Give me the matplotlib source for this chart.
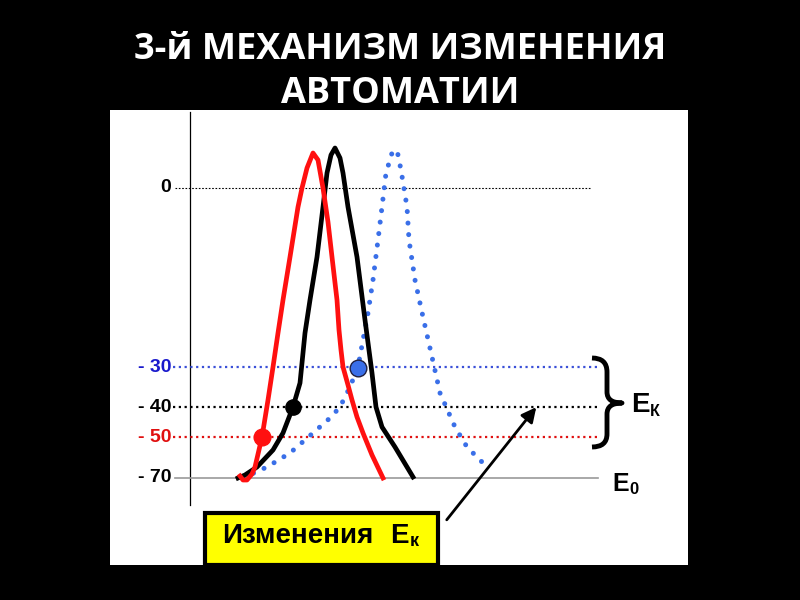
import matplotlib.pyplot as plt
from matplotlib.patches import Rectangle, PathPatch
from matplotlib.path import Path

plt.rcParams['font.family'] = ['Liberation Sans', 'DejaVu Sans']

# уровни потенциала (подписи) и их положение на схеме
level_labels = ['0', '- 30', '- 40', '- 50', '- 70']
level_y = [188, 367, 407, 437, 478]
level_colors = ['black', '#1a1acc', 'black', '#e01010', 'black']

# кривые ПД (схематично, координаты схемы)
red_x = [240, 243, 247, 252, 255, 262, 268, 273, 278, 283, 290, 298, 302, 307, 313,
         318, 323, 328, 332, 337, 339, 341, 343, 348, 352, 357, 363, 372, 383]
red_y = [476, 480, 480, 474, 467, 437, 400, 367, 333, 300, 257, 207, 188, 168, 153,
         160, 188, 222, 257, 300, 330, 350, 367, 385, 400, 417, 433, 455, 478]

black_x = [238, 245, 257, 273, 283, 293, 300, 305, 310, 317, 323, 327, 331, 335,
           340, 343, 348, 357, 365, 372, 376, 382, 395, 413]
black_y = [478, 475, 467, 450, 433, 407, 383, 333, 300, 257, 207, 173, 155, 148,
           158, 173, 207, 257, 320, 373, 407, 427, 447, 477]

blue_x = [243, 245, 256, 267, 290, 313, 330, 340, 350, 358, 363, 368, 373, 378,
          382, 386, 392, 397, 401, 407, 409, 415, 423, 432, 440, 455, 467, 485]
blue_y = [478, 477, 472, 467, 453, 433, 418, 407, 387, 367, 340, 313, 280, 240,
          207, 173, 153, 150, 170, 207, 240, 280, 317, 357, 393, 427, 447, 465]

# пороговые точки
thr_x = [262, 293, 358]
thr_y = [437, 407, 368]
thr_colors = ['#ff1010', 'black', '#3a6fe8']

fig = plt.figure(figsize=(8, 6), dpi=100, facecolor='black')
ax = fig.add_axes([110 / 800, 35 / 600, 578 / 800, 455 / 600])
ax.set_xlim(110, 688)
ax.set_ylim(565, 110)
ax.axis('off')
ax.add_patch(Rectangle((110, 110), 578, 455, fc='white', ec='none', zorder=0))

fig.text(0.5, 0.88, '3-й МЕХАНИЗМ ИЗМЕНЕНИЯ\nАВТОМАТИИ', color='white',
         ha='center', va='center', fontsize=26, fontweight='bold',
         family=['Open Sans', 'DejaVu Sans'], linespacing=1.32)

# ось
ax.plot([190, 190], [112, 505], color='black', lw=0.9)

# горизонтальные уровни
ax.plot([175, 590], [level_y[0]] * 2, color='black', lw=0.8, ls=(0, (1.5, 1.5)))
for y, c in zip(level_y[1:4], ['#3a50d8', 'black', '#e01010']):
    ax.plot([173, 598], [y, y], color=c, lw=1.6, ls=(0, (1, 1.6)))
ax.plot([175, 598], [level_y[4]] * 2, color='#999999', lw=1.2)

for lab, y, c in zip(level_labels, level_y, level_colors):
    ax.text(171, y, lab, color=c, ha='right', va='center', fontsize=14,
            fontweight='bold')

# кривые
ax.plot(black_x, black_y, color='black', lw=3.4, solid_joinstyle='round', zorder=3)
ax.plot(red_x, red_y, color='#ff1010', lw=3.4, solid_joinstyle='round', zorder=4)
ax.plot(blue_x, blue_y, color='#3a6fe8', lw=3.6, ls=(0, (0.01, 2.3)),
        dash_capstyle='round', zorder=2)

for x, y, c in zip(thr_x, thr_y, thr_colors):
    ax.plot(x, y, 'o', ms=12 if c != 'black' else 11, mfc=c,
            mec='#202040' if c == '#3a6fe8' else c, mew=1, zorder=5)

# фигурная скобка
brace = Path([(592, 358), (607, 358), (607, 372), (607, 392), (607, 403), (622, 403),
              (607, 403), (607, 414), (607, 434), (607, 447), (592, 447)],
             [Path.MOVETO, Path.CURVE3, Path.CURVE3, Path.LINETO, Path.CURVE3,
              Path.CURVE3, Path.CURVE3, Path.CURVE3, Path.LINETO, Path.CURVE3,
              Path.CURVE3])
ax.add_patch(PathPatch(brace, fc='none', ec='black', lw=3.5, capstyle='butt',
                       joinstyle='round'))

ax.text(631, 405, 'Е', fontsize=20, fontweight='bold', va='center', ha='left')
ax.text(650, 412, 'К', fontsize=11.5, fontweight='bold', va='center', ha='left')
ax.text(612, 484, 'Е', fontsize=18, fontweight='bold', va='center', ha='left')
ax.text(629, 489, '0', fontsize=12, fontweight='bold', va='center', ha='left')

# плашка со стрелкой
ax.add_patch(Rectangle((205, 513), 233, 52, fc='#ffff00', ec='black', lw=3, zorder=6))
ax.text(222, 536, 'Изменения', fontsize=20, fontweight='bold', va='center',
        ha='left', zorder=7)
ax.text(390, 536, 'Е', fontsize=20, fontweight='bold', va='center', ha='left',
        zorder=7)
ax.text(410, 542, 'к', fontsize=13, fontweight='bold', va='center', ha='left',
        zorder=7)
ax.annotate('', xy=(538, 405), xytext=(445, 522),
            arrowprops=dict(arrowstyle='-|>', color='black', lw=2,
                            mutation_scale=22), zorder=6)

fig.savefig('out.png', dpi=100, facecolor='black')
